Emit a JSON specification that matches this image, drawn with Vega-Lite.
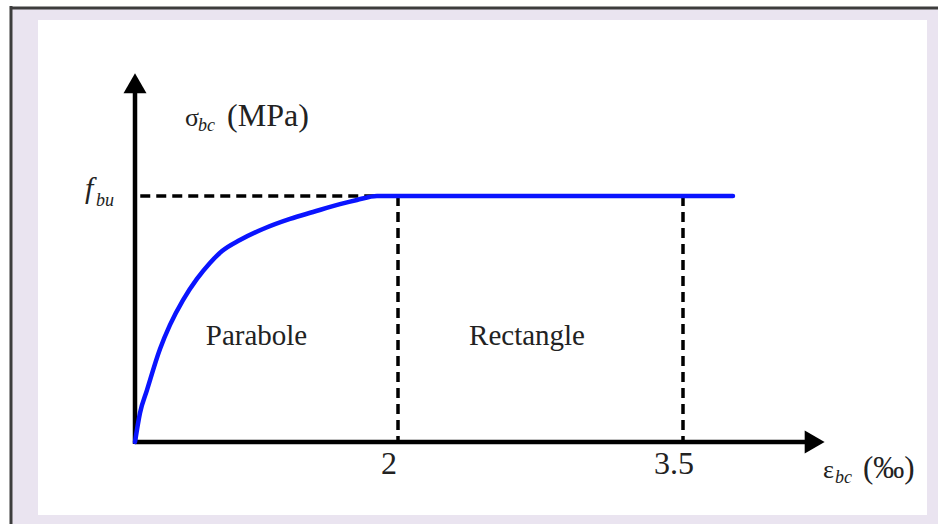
{
  "$schema": "https://vega.github.io/schema/vega-lite/v6.json",
  "width": 889,
  "height": 495,
  "autosize": {"type": "none"},
  "padding": {"left": 38, "top": 20, "right": 11, "bottom": 9},
  "background": "white",
  "config": {"view": {"stroke": null, "fill": "white"}},
  "datasets": {
    "frame": [{"eps": -0.951, "sig": 1.768, "eps2": 4.9, "sig2": -0.35}],
    "panel": [{"eps": -0.7376, "sig": 1.7154, "eps2": 4.7842, "sig2": -0.2967}],
    "border": [
      {"eps": -0.951, "sig": 1.764, "eps2": 4.9, "sig2": 1.764},
      {"eps": -0.943, "sig": 1.772, "eps2": -0.943, "sig2": -0.35}
    ],
    "curve": [
      {"eps": 0, "sig": 0},
      {"eps": 0.038, "sig": 0.118},
      {"eps": 0.091, "sig": 0.211},
      {"eps": 0.19, "sig": 0.378},
      {"eps": 0.266, "sig": 0.476},
      {"eps": 0.365, "sig": 0.577},
      {"eps": 0.471, "sig": 0.663},
      {"eps": 0.57, "sig": 0.728},
      {"eps": 0.662, "sig": 0.776},
      {"eps": 0.798, "sig": 0.821},
      {"eps": 0.973, "sig": 0.866},
      {"eps": 1.179, "sig": 0.907},
      {"eps": 1.354, "sig": 0.935},
      {"eps": 1.559, "sig": 0.967},
      {"eps": 1.688, "sig": 0.984},
      {"eps": 1.84, "sig": 1.0},
      {"eps": 3.763, "sig": 1.0}
    ],
    "guides": [
      {"eps": 0.04, "sig": 1, "eps2": 2, "sig2": 1},
      {"eps": 2, "sig": 1, "eps2": 2, "sig2": 0},
      {"eps": 3.5, "sig": 1, "eps2": 3.5, "sig2": 0}
    ],
    "axes": [
      {"eps": 0, "sig": -0.008, "eps2": 0, "sig2": 1.45},
      {"eps": 0, "sig": 0, "eps2": 4.18, "sig2": 0}
    ],
    "arrows": [
      {"eps": 0, "sig": 1.458, "dir": "up"},
      {"eps": 4.193, "sig": 0, "dir": "right"}
    ],
    "labels": [
      {"eps": 0.924, "sig": 0.394, "text": "Parabole", "role": "region"},
      {"eps": 2.679, "sig": 0.394, "text": "Rectangle", "role": "region"},
      {"eps": 2, "sig": 0, "text": "2", "role": "tick"},
      {"eps": 3.5, "sig": 0, "text": "3.5", "role": "tick"},
      {"eps": 0.38, "sig": 1.285, "text": "σ", "role": "symbol"},
      {"eps": 0.48, "sig": 1.264, "text": "bc", "role": "sub"},
      {"eps": 0.7, "sig": 1.285, "text": "(MPa)", "role": "unitY"},
      {"eps": -0.38, "sig": 0.992, "text": "f", "role": "fsym"},
      {"eps": -0.297, "sig": 0.959, "text": "bu", "role": "sub"},
      {"eps": 4.237, "sig": -0.146, "text": "ε", "role": "symbol"},
      {"eps": 4.3, "sig": -0.167, "text": "bc", "role": "sub"},
      {"eps": 4.447, "sig": -0.146, "text": "(‰)", "role": "unitX"}
    ]
  },
  "encoding": {
    "x": {
      "field": "eps",
      "type": "quantitative",
      "axis": null,
      "scale": {"domain": [-0.7376, 0, 2, 3.5, 4.7842], "range": [0, 97, 360, 645, 889], "nice": false, "zero": false}
    },
    "y": {
      "field": "sig",
      "type": "quantitative",
      "axis": null,
      "scale": {"domain": [-0.2967, 1.7154], "nice": false, "zero": false}
    }
  },
  "layer": [
    {
      "data": {"name": "frame"},
      "mark": {"type": "rect", "color": "#EAE4F0", "clip": false},
      "encoding": {"x2": {"field": "eps2"}, "y2": {"field": "sig2"}}
    },
    {
      "data": {"name": "panel"},
      "mark": {"type": "rect", "color": "#FFFFFF", "clip": false},
      "encoding": {"x2": {"field": "eps2"}, "y2": {"field": "sig2"}}
    },
    {
      "data": {"name": "border"},
      "mark": {"type": "rule", "color": "#3d3d3d", "strokeWidth": 3, "clip": false},
      "encoding": {"x2": {"field": "eps2"}, "y2": {"field": "sig2"}}
    },
    {
      "data": {"name": "guides"},
      "mark": {"type": "rule", "color": "#000000", "strokeWidth": 3.5, "strokeDash": [10, 6]},
      "encoding": {"x2": {"field": "eps2"}, "y2": {"field": "sig2"}}
    },
    {
      "data": {"name": "axes"},
      "mark": {"type": "rule", "color": "#000000", "strokeWidth": 4.5},
      "encoding": {"x2": {"field": "eps2"}, "y2": {"field": "sig2"}}
    },
    {
      "data": {"name": "arrows"},
      "mark": {"type": "point", "filled": true, "color": "#000000", "size": 529, "opacity": 1, "strokeWidth": 0},
      "encoding": {
        "shape": {"field": "dir", "type": "nominal", "legend": null, "scale": {"domain": ["up", "right"], "range": ["triangle-up", "triangle-right"]}}
      }
    },
    {
      "data": {"name": "curve"},
      "mark": {"type": "line", "color": "#0a14ff", "strokeWidth": 4.5, "interpolate": "monotone", "strokeCap": "round"}
    },
    {
      "data": {"name": "labels"},
      "transform": [{"filter": "datum.role === 'region'"}],
      "mark": {"type": "text", "font": "Liberation Serif", "fontSize": 29, "align": "center", "baseline": "alphabetic", "color": "#222222"},
      "encoding": {"text": {"field": "text"}}
    },
    {
      "data": {"name": "labels"},
      "transform": [{"filter": "datum.role === 'tick'"}],
      "mark": {"type": "text", "font": "Liberation Serif", "fontSize": 32, "align": "center", "baseline": "alphabetic", "dx": -9, "dy": 32, "color": "#222222"},
      "encoding": {"text": {"field": "text"}}
    },
    {
      "data": {"name": "labels"},
      "transform": [{"filter": "datum.role === 'symbol'"}],
      "mark": {"type": "text", "font": "Liberation Serif", "fontSize": 26, "align": "left", "baseline": "alphabetic", "color": "#222222", "clip": false},
      "encoding": {"text": {"field": "text"}}
    },
    {
      "data": {"name": "labels"},
      "transform": [{"filter": "datum.role === 'fsym'"}],
      "mark": {"type": "text", "font": "Liberation Serif", "fontSize": 30, "fontStyle": "italic", "align": "left", "baseline": "alphabetic", "color": "#222222"},
      "encoding": {"text": {"field": "text"}}
    },
    {
      "data": {"name": "labels"},
      "transform": [{"filter": "datum.role === 'sub'"}],
      "mark": {"type": "text", "font": "Liberation Serif", "fontSize": 18, "fontStyle": "italic", "align": "left", "baseline": "alphabetic", "color": "#222222"},
      "encoding": {"text": {"field": "text"}}
    },
    {
      "data": {"name": "labels"},
      "transform": [{"filter": "datum.role === 'unitY'"}],
      "mark": {"type": "text", "font": "Liberation Serif", "fontSize": 32, "align": "left", "baseline": "alphabetic", "color": "#222222"},
      "encoding": {"text": {"field": "text"}}
    },
    {
      "data": {"name": "labels"},
      "transform": [{"filter": "datum.role === 'unitX'"}],
      "mark": {"type": "text", "font": "Liberation Serif", "fontSize": 31, "align": "left", "baseline": "alphabetic", "color": "#222222"},
      "encoding": {"text": {"field": "text"}}
    }
  ]
}
